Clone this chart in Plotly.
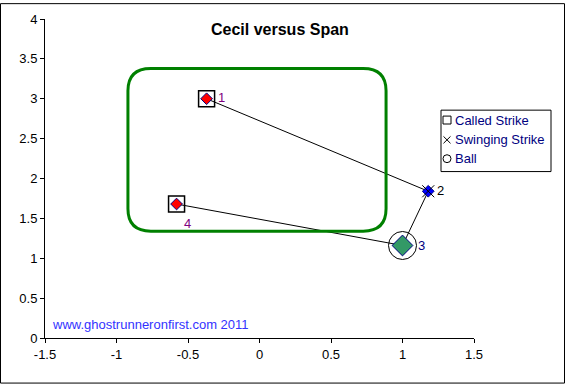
import plotly.graph_objects as go

# ---- data ----
pitch_labels = ["1", "2", "3", "4"]
pitch_x = [-0.37, 1.18, 1.0, -0.58]
pitch_y = [3.0, 1.84, 1.16, 1.68]
pitch_type = ["Called Strike", "Swinging Strike", "Ball", "Called Strike"]
label_colors = ["#800080", "#000000", "#000080", "#800080"]
zone_left, zone_right = -0.92, 0.885
zone_bottom, zone_top = 1.34, 3.38
legend_names = ["Called Strike", "Swinging Strike", "Ball"]
x_ticks = [-1.5, -1, -0.5, 0, 0.5, 1, 1.5]
y_ticks = [0, 0.5, 1, 1.5, 2, 2.5, 3, 3.5, 4]

W, H = 565, 384
L, R, T, B = 45, 474, 16, 338
PW, PH = R - L, B - T
def px(x): return (x - L) / PW
def py(y): return (B - y) / PH

FONT = "Arial, Liberation Sans, sans-serif"
FS = 13
fig = go.Figure()

# connecting line
fig.add_trace(go.Scatter(x=pitch_x, y=pitch_y, mode="lines",
                         line=dict(color="black", width=1), hoverinfo="skip", showlegend=False))

# diamonds
d_colors = {"Called Strike": "#FF0000", "Swinging Strike": "#0000FF", "Ball": "#339966"}
d_sizes = {"Called Strike": 9, "Swinging Strike": 9, "Ball": 16}
fig.add_trace(go.Scatter(x=pitch_x, y=pitch_y, mode="markers", showlegend=False,
                         marker=dict(symbol="diamond", opacity=1,
                                     size=[d_sizes[p] for p in pitch_type],
                                     color=[d_colors[p] for p in pitch_type],
                                     line=dict(width=1, color="#000080"))))

# outer symbols by pitch type
sym = {"Called Strike": ("square-open", 16, 1.5),
       "Swinging Strike": ("x-thin-open", 12, 1),
       "Ball": ("circle-open", 28, 1)}
for t in legend_names:
    xs = [x for x, p in zip(pitch_x, pitch_type) if p == t]
    ys = [y for y, p in zip(pitch_y, pitch_type) if p == t]
    s, sz, lw = sym[t]
    fig.add_trace(go.Scatter(x=xs, y=ys, mode="markers", showlegend=False,
                             marker=dict(symbol=s, size=sz, color="black", opacity=1,
                                         line=dict(width=lw, color="black"))))

# point labels
offsets = [(15, 1), (12, 1), (19, 0), (11, -19)]
for lab, x, y, c, (dx, dy) in zip(pitch_labels, pitch_x, pitch_y, label_colors, offsets):
    fig.add_annotation(x=x, y=y, text=lab, showarrow=False, xshift=dx, yshift=dy,
                       font=dict(family=FONT, size=FS, color=c))

shapes = []
# strike zone rounded rect
rx, ry = 0.16, 0.28
x0, x1, y0, y1 = zone_left, zone_right, zone_bottom, zone_top
path = (f"M {x0+rx},{y1} L {x1-rx},{y1} Q {x1},{y1} {x1},{y1-ry} L {x1},{y0+ry} "
        f"Q {x1},{y0} {x1-rx},{y0} L {x0+rx},{y0} Q {x0},{y0} {x0},{y0+ry} "
        f"L {x0},{y1-ry} Q {x0},{y1} {x0+rx},{y1} Z")
shapes.append(dict(type="path", path=path, xref="x", yref="y",
                   line=dict(color="#008000", width=3), layer="above"))

# chart border
shapes.append(dict(type="rect", xref="paper", yref="paper",
                   x0=px(0.5), x1=px(W - 0.5), y0=py(H - 0.5), y1=py(0.5),
                   line=dict(color="black", width=1)))

# manual legend
lx0, lx1, ly0, ly1 = 441, 551, 108, 170
shapes.append(dict(type="rect", xref="paper", yref="paper",
                   x0=px(lx0), x1=px(lx1), y0=py(ly1), y1=py(ly0),
                   line=dict(color="black", width=1), fillcolor="white", layer="above"))
rows = [118, 138, 157]
sx = 447
# square
shapes.append(dict(type="rect", xref="paper", yref="paper",
                   x0=px(sx - 4), x1=px(sx + 4), y0=py(rows[0] + 4), y1=py(rows[0] - 4),
                   line=dict(color="black", width=1)))
# x
for a, b in [((-3.5, -3.5), (3.5, 3.5)), ((-3.5, 3.5), (3.5, -3.5))]:
    shapes.append(dict(type="line", xref="paper", yref="paper",
                       x0=px(sx + a[0]), y0=py(rows[1] + a[1]), x1=px(sx + b[0]), y1=py(rows[1] + b[1]),
                       line=dict(color="black", width=1)))
# circle
shapes.append(dict(type="circle", xref="paper", yref="paper",
                   x0=px(sx - 4), x1=px(sx + 4), y0=py(rows[2] + 4), y1=py(rows[2] - 4),
                   line=dict(color="black", width=1)))
for name, ry_ in zip(legend_names, rows):
    fig.add_annotation(xref="paper", yref="paper", x=px(453), y=py(ry_), text=name,
                       showarrow=False, xanchor="left", yanchor="middle",
                       font=dict(family=FONT, size=FS, color="#000080"))

# watermark
fig.add_annotation(xref="paper", yref="paper", x=px(50), y=py(324), text="www.ghostrunneronfirst.com 2011",
                   showarrow=False, xanchor="left", yanchor="middle",
                   font=dict(family=FONT, size=FS, color="#3333FF"))

# title
fig.add_annotation(xref="paper", yref="paper", x=px(280), y=py(27), text="<b>Cecil versus Span</b>",
                   showarrow=False, xanchor="center", yanchor="middle",
                   font=dict(family=FONT, size=16, color="black"))

fig.update_layout(
    width=W, height=H, margin=dict(l=L, r=W - R, t=T, b=H - B),
    paper_bgcolor="white", plot_bgcolor="white", showlegend=False,
    shapes=shapes,
    xaxis=dict(range=[-1.5, 1.5], tickvals=x_ticks, ticktext=[f"{v:g}" for v in x_ticks],
               showgrid=False, zeroline=False, showline=True, linecolor="black", linewidth=1,
               ticks="outside", ticklen=4, tickcolor="black",
               tickfont=dict(family=FONT, size=FS, color="black")),
    yaxis=dict(range=[0, 4], tickvals=y_ticks, ticktext=[f"{v:g}" for v in y_ticks],
               showgrid=False, zeroline=False, showline=True, linecolor="black", linewidth=1,
               ticks="outside", ticklen=4, tickcolor="black",
               tickfont=dict(family=FONT, size=FS, color="black")),
)
fig.write_html("out.html")
